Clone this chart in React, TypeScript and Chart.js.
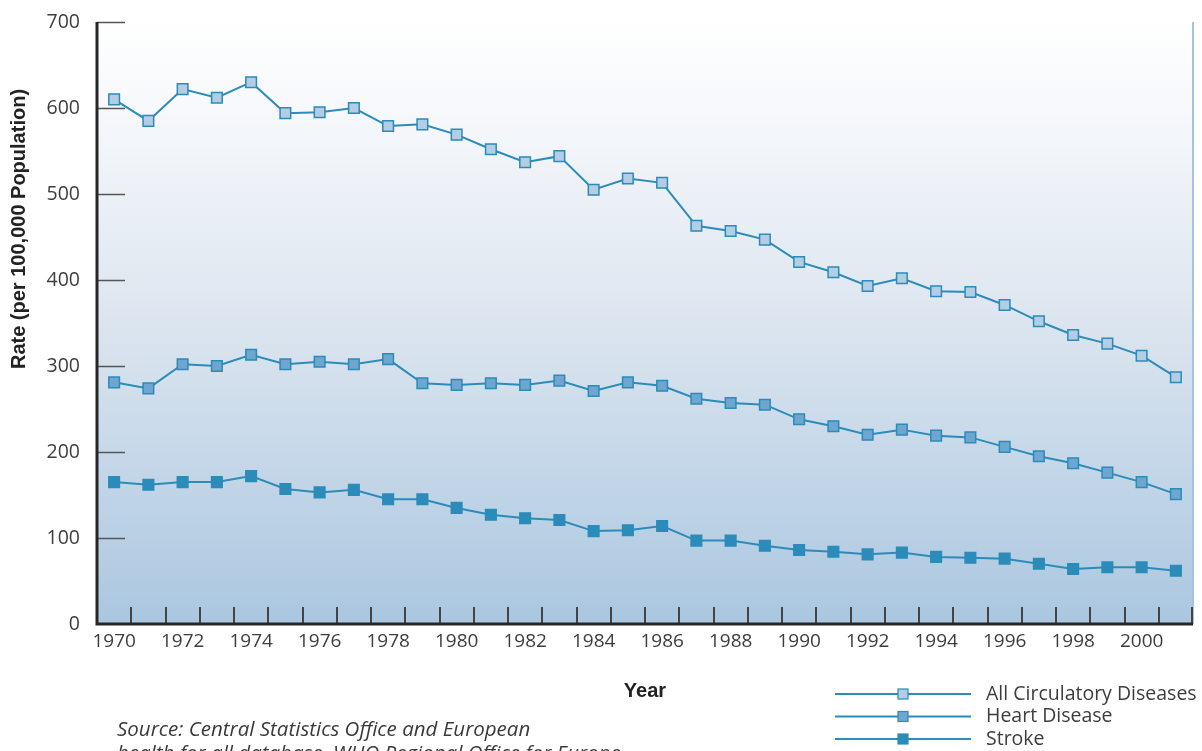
import React, { useEffect, useRef } from "react";
import { Chart, registerables } from "chart.js";
Chart.register(...registerables);

const years = [
  "1970", "1971", "1972", "1973", "1974", "1975", "1976", "1977", "1978", "1979",
  "1980", "1981", "1982", "1983", "1984", "1985", "1986", "1987", "1988", "1989",
  "1990", "1991", "1992", "1993", "1994", "1995", "1996", "1997", "1998", "1999",
  "2000", "2001",
];

const allCirculatory = [
  610, 585, 622, 612, 630, 594, 595, 600, 579, 581,
  569, 552, 537, 544, 505, 518, 513, 463, 457, 447,
  421, 409, 393, 402, 387, 386, 371, 352, 336, 326,
  312, 287,
];

const heartDisease = [
  281, 274, 302, 300, 313, 302, 305, 302, 308, 280,
  278, 280, 278, 283, 271, 281, 277, 262, 257, 255,
  238, 230, 220, 226, 219, 217, 206, 195, 187, 176,
  165, 151,
];

const stroke = [
  165, 162, 165, 165, 172, 157, 153, 156, 145, 145,
  135, 127, 123, 121, 108, 109, 114, 97, 97, 91,
  86, 84, 81, 83, 78, 77, 76, 70, 64, 66,
  66, 62,
];

const seriesNames = ["All Circulatory Diseases", "Heart Disease", "Stroke"];
const yMin = 0;
const yMax = 700;
const yStep = 100;
const yTitle = "Rate (per 100,000 Population)";
const xTitle = "Year";
const sourceLines = [
  "Source: Central Statistics Office and European",
  "health for all database, WHO Regional Office for Europe",
];

const LINE = "#2b8bb9";
const FILLS = ["#b3cde4", "#6fa6cf", "#2b8bb9"];
const TEXT = "#3d3d3d";
const TICK_FONT = "'Open Sans', 'Noto Sans', sans-serif";

const decorPlugin = {
  id: "decor",
  beforeDraw(chart: any) {
    const { ctx, chartArea } = chart;
    const { left, right, top, bottom } = chartArea;
    const g = ctx.createLinearGradient(0, top, 0, bottom);
    g.addColorStop(0, "#ffffff");
    g.addColorStop(0.15, "#f6f8fb");
    g.addColorStop(0.5, "#dce5ef");
    g.addColorStop(1, "#aac7e0");
    ctx.save();
    ctx.fillStyle = g;
    ctx.fillRect(left, top, right - left, bottom - top);
    ctx.restore();
  },
  afterDraw(chart: any) {
    const { ctx, chartArea } = chart;
    const { left, right, top, bottom } = chartArea;
    const xs = chart.scales.x;
    const ys = chart.scales.y;
    ctx.save();

    // right edge line
    ctx.strokeStyle = "#a7c3df";
    ctx.lineWidth = 2;
    ctx.beginPath();
    ctx.moveTo(right, top);
    ctx.lineTo(right, bottom);
    ctx.stroke();

    // y tick marks
    ctx.strokeStyle = "#555555";
    ctx.lineWidth = 1.5;
    for (let v = yMin + yStep; v <= yMax; v += yStep) {
      const y = Math.round(ys.getPixelForValue(v)) + 0.5;
      ctx.beginPath();
      ctx.moveTo(left, y);
      ctx.lineTo(left + 28, y);
      ctx.stroke();
    }

    // x tick marks at category boundaries
    ctx.strokeStyle = "#444444";
    ctx.lineWidth = 2;
    const n = years.length;
    const bounds: number[] = [];
    for (let i = 0; i < n - 1; i++) {
      bounds.push((xs.getPixelForTick(i) + xs.getPixelForTick(i + 1)) / 2);
    }
    bounds.push(right - 1);
    for (const b of bounds) {
      const x = Math.round(b);
      ctx.beginPath();
      ctx.moveTo(x, bottom - 17);
      ctx.lineTo(x, bottom);
      ctx.stroke();
    }

    // axes
    ctx.strokeStyle = "#262626";
    ctx.lineWidth = 3;
    ctx.beginPath();
    ctx.moveTo(left, top);
    ctx.lineTo(left, bottom);
    ctx.lineTo(right, bottom);
    ctx.stroke();

    // y title
    ctx.fillStyle = "#222222";
    ctx.font = "bold 20px 'Liberation Sans', Arial, sans-serif";
    ctx.textAlign = "center";
    ctx.textBaseline = "middle";
    ctx.save();
    ctx.translate(19, 229);
    ctx.rotate(-Math.PI / 2);
    ctx.fillText(yTitle, 0, 0);
    ctx.restore();

    // x title
    ctx.font = "bold 20px 'Liberation Sans', Arial, sans-serif";
    ctx.fillText(xTitle, (left + right) / 2, 691);

    // legend
    const ds = chart.data.datasets;
    for (let i = 0; i < ds.length; i++) {
      const y = 694 + 22.5 * i;
      ctx.strokeStyle = LINE;
      ctx.lineWidth = 2;
      ctx.beginPath();
      ctx.moveTo(835, y);
      ctx.lineTo(971, y);
      ctx.stroke();
      ctx.fillStyle = FILLS[i];
      ctx.fillRect(898, y - 5, 10, 10);
      ctx.lineWidth = 1.2;
      ctx.strokeRect(898, y - 5, 10, 10);
      ctx.fillStyle = TEXT;
      ctx.font = `19.5px ${TICK_FONT}`;
      ctx.textAlign = "left";
      ctx.textBaseline = "middle";
      ctx.fillText(ds[i].label, 986, y);
    }

    // source
    ctx.fillStyle = "#3a3a3a";
    ctx.font = `italic 20.5px ${TICK_FONT}`;
    ctx.textAlign = "left";
    ctx.textBaseline = "middle";
    ctx.fillText(sourceLines[0], 117, 730);
    ctx.fillText(sourceLines[1], 117, 754);

    ctx.restore();
  },
};

export default function App() {
  const ref = useRef<HTMLCanvasElement | null>(null);
  useEffect(() => {
    if (!ref.current) return;
    const mk = (label: string, data: number[], i: number) => ({
      label,
      data,
      borderColor: LINE,
      borderWidth: 2,
      pointStyle: "rect" as const,
      pointRadius: 7.5,
      pointHoverRadius: 7.5,
      pointBorderWidth: 1.5,
      pointBackgroundColor: FILLS[i],
      pointBorderColor: LINE,
      tension: 0,
      fill: false,
    });
    const chart = new Chart(ref.current, {
      type: "line",
      data: {
        labels: years,
        datasets: [
          mk(seriesNames[0], allCirculatory, 0),
          mk(seriesNames[1], heartDisease, 1),
          mk(seriesNames[2], stroke, 2),
        ],
      },
      options: {
        responsive: false,
        animation: false,
        layout: { padding: { top: 22, right: 8, left: 0, bottom: 0 } },
        plugins: {
          legend: { display: false },
          tooltip: { enabled: false },
          title: { display: false },
        },
        scales: {
          x: {
            type: "category",
            offset: true,
            grid: { display: false, drawTicks: false },
            border: { display: false },
            ticks: {
              autoSkip: false,
              maxRotation: 0,
              minRotation: 0,
              padding: 6,
              color: TEXT,
              font: { family: TICK_FONT, size: 19 },
              callback: (_v: any, i: number) => (i % 2 === 0 ? years[i] : ""),
            },
            afterFit: (s: any) => {
              s.height = 127;
              s.paddingLeft = 0;
              s.paddingRight = 0;
            },
          },
          y: {
            min: yMin,
            max: yMax,
            grid: { display: false, drawTicks: false },
            border: { display: false },
            ticks: {
              stepSize: yStep,
              padding: 17,
              color: TEXT,
              font: { family: TICK_FONT, size: 19.5 },
            },
            afterFit: (s: any) => {
              s.width = 97;
              s.paddingTop = 0;
              s.paddingBottom = 0;
            },
          },
        },
      },
      plugins: [decorPlugin],
    });
    return () => chart.destroy();
  }, []);
  return (
    <div style={{ position: "absolute", left: 0, top: 0, width: 1202, height: 751, background: "#ffffff" }}>
      <canvas ref={ref} width={1202} height={751} style={{ display: "block" }} />
    </div>
  );
}
